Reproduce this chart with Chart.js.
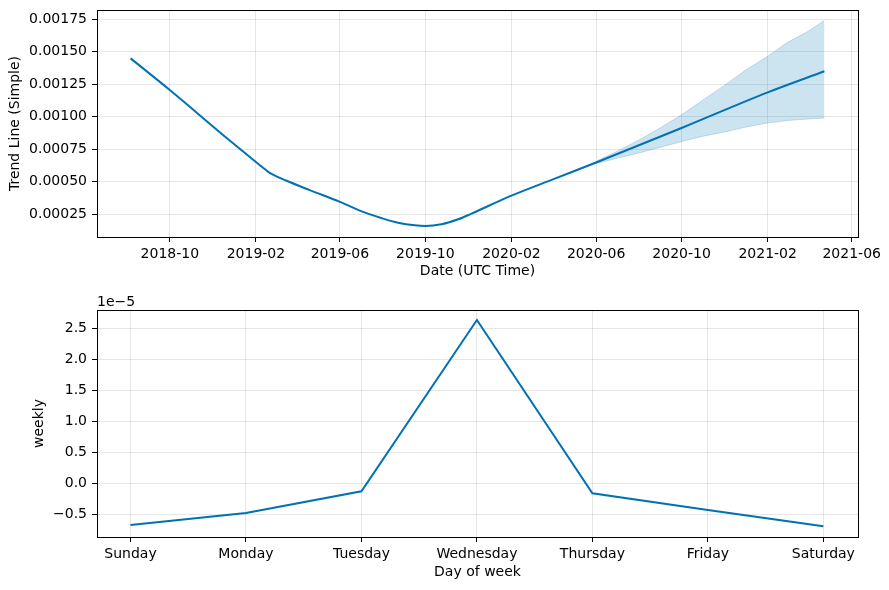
<!DOCTYPE html>
<html>
<head>
<meta charset="utf-8">
<script src="https://cdn.jsdelivr.net/npm/chart.js@4.4.0/dist/chart.umd.min.js"></script>
<style>
body { margin: 0; background: #fff; }
#wrap { position: relative; width: 889px; height: 590px; }
canvas { position: absolute; left: 0; }
</style>
</head>
<body>
<div id="wrap">
  <canvas id="trendChart" width="889" height="295" style="top:0"></canvas>
  <canvas id="weeklyChart" width="889" height="295" style="top:295px"></canvas>
</div>
<script>
// -----------------------------
// Data
// -----------------------------
const trendDates = [
  '2018-08-06', '2018-10-01', '2018-12-26', '2019-02-10', '2019-02-18', '2019-02-26',
  '2019-03-16', '2019-04-18', '2019-06-01', '2019-07-07', '2019-07-31', '2019-08-23',
  '2019-09-16', '2019-10-01', '2019-10-24', '2019-11-17', '2019-12-06', '2020-02-01',
  '2020-04-02', '2020-06-01', '2020-10-01', '2021-02-01', '2021-04-23'
];
const trendValues = [
  0.001448, 0.001205, 0.000815, 0.000613, 0.000578, 0.000553,
  0.000509, 0.000437, 0.000345, 0.000262, 0.000219, 0.000185,
  0.000165, 0.000160, 0.000173, 0.000211, 0.000255, 0.000393,
  0.000522, 0.000648, 0.000913, 0.001187, 0.001349
];

const bandDates = [
  '2020-05-20', '2020-06-01', '2020-07-01', '2020-08-01', '2020-09-01', '2020-10-01',
  '2020-11-01', '2020-12-01', '2021-01-01', '2021-02-01', '2021-03-01', '2021-04-01', '2021-04-23'
];
const bandUpper = [
  0.000625, 0.000658, 0.000735, 0.000820, 0.000915, 0.001015,
  0.001130, 0.001240, 0.001360, 0.001464, 0.001570, 0.001660, 0.001741
];
const bandLower = [
  0.000620, 0.000640, 0.000680, 0.000720, 0.000765, 0.000809,
  0.000850, 0.000882, 0.000920, 0.000951, 0.000970, 0.000982, 0.000989
];

const trendTickLabels = ['2018-10', '2019-02', '2019-06', '2019-10', '2020-02', '2020-06', '2020-10', '2021-02', '2021-06'];
const trendYTicks = [0.00025, 0.0005, 0.00075, 0.001, 0.00125, 0.0015, 0.00175];

const weekDays = ['Sunday', 'Monday', 'Tuesday', 'Wednesday', 'Thursday', 'Friday', 'Saturday'];
const weeklyValues = [-0.673e-5, -0.479e-5, -0.129e-5, 2.634e-5, -0.161e-5, -0.43e-5, -0.694e-5];
const weeklyYTicks = [-0.5e-5, 0, 0.5e-5, 1.0e-5, 1.5e-5, 2.0e-5, 2.5e-5];

// -----------------------------
// Shared look
// -----------------------------
const lineColor = '#0072B2';
const bandColor = 'rgba(0, 114, 178, 0.2)';
const gridColor = 'rgba(128, 128, 128, 0.2)';

Chart.defaults.font.family = 'DejaVu Sans';
Chart.defaults.font.size = 14;
Chart.defaults.color = '#000';

function toMs(d) {
  let p = d.split('-');
  return Date.UTC(+p[0], +p[1] - 1, p[2] ? +p[2] : 1);
}

function pts(xs, ys) {
  let out = [];
  for (let i = 0; i < xs.length; i++) {
    out.push({ x: xs[i], y: ys[i] });
  }
  return out;
}

// black box round the plot area, like the matplotlib spines
const framePlugin = {
  id: 'frame',
  afterDraw(chart) {
    let a = chart.chartArea;
    let ctx = chart.ctx;
    ctx.save();
    ctx.strokeStyle = '#000';
    ctx.lineWidth = 1;
    ctx.strokeRect(Math.round(a.left) + 0.5, Math.round(a.top) + 0.5,
      Math.round(a.right - a.left), Math.round(a.bottom - a.top));
    ctx.restore();
  }
};

// "1e-5" offset text above the weekly axis
const offsetTextPlugin = {
  id: 'offsetText',
  afterDraw(chart) {
    let a = chart.chartArea;
    let ctx = chart.ctx;
    ctx.save();
    ctx.font = '14px "DejaVu Sans"';
    ctx.fillStyle = '#000';
    ctx.textAlign = 'left';
    ctx.textBaseline = 'middle';
    ctx.fillText('1e\u22125', a.left, a.top - 8);
    ctx.restore();
  }
};

function axisGrid() {
  return { color: gridColor, lineWidth: 1, tickColor: '#000', tickLength: 5, drawTicks: true };
}

// keep the plot box where the reference has it (no label overhang padding)
function fixX(h) {
  return s => { s.height = h; s.paddingLeft = 0; s.paddingRight = 0; };
}
function fixY(s) {
  s.width = 97;
  s.paddingTop = 0;
  s.paddingBottom = 0;
}

// -----------------------------
// Trend chart
// -----------------------------
const trendPts = pts(trendDates.map(toMs), trendValues);
const upperPts = pts(bandDates.map(toMs), bandUpper);
const lowerPts = pts(bandDates.map(toMs), bandLower);

new Chart(document.getElementById('trendChart'), {
  type: 'line',
  data: {
    datasets: [
      {
        label: 'trend',
        data: trendPts,
        borderColor: lineColor,
        borderWidth: 2,
        pointRadius: 0,
        cubicInterpolationMode: 'monotone',
        fill: false,
        order: 0
      },
      {
        label: 'upper',
        data: upperPts,
        borderColor: bandColor,
        borderWidth: 1,
        backgroundColor: bandColor,
        pointRadius: 0,
        fill: '+1',
        order: 1
      },
      {
        label: 'lower',
        data: lowerPts,
        borderColor: bandColor,
        borderWidth: 1,
        pointRadius: 0,
        fill: false,
        order: 2
      }
    ]
  },
  options: {
    responsive: false,
    animation: false,
    layout: { padding: { top: 10, right: 31, left: 0, bottom: 0 } },
    plugins: { legend: { display: false }, tooltip: { enabled: false } },
    scales: {
      x: {
        type: 'linear',
        min: toMs('2018-06-19'),
        max: toMs('2021-06-10'),
        afterBuildTicks: s => { s.ticks = trendTickLabels.map(l => ({ value: toMs(l) })); },
        afterFit: fixX(58),
        ticks: { callback: (v, i) => trendTickLabels[i], autoSkip: false, maxRotation: 0, padding: 4 },
        grid: axisGrid(),
        border: { display: false },
        title: { display: true, text: 'Date (UTC Time)', padding: { top: 0, bottom: 15 } }
      },
      y: {
        min: 0.000075,
        max: 0.00182,
        afterBuildTicks: s => { s.ticks = trendYTicks.map(v => ({ value: v })); },
        afterFit: fixY,
        ticks: { callback: v => v.toFixed(5), padding: 5 },
        grid: axisGrid(),
        border: { display: false },
        title: { display: true, text: 'Trend Line (Simple)', padding: { top: 7, bottom: 0 } }
      }
    }
  },
  plugins: [framePlugin]
});

// -----------------------------
// Weekly chart
// -----------------------------
new Chart(document.getElementById('weeklyChart'), {
  type: 'line',
  data: {
    datasets: [{
      label: 'weekly',
      data: pts(weekDays.map((d, i) => i), weeklyValues),
      borderColor: lineColor,
      borderWidth: 2,
      pointRadius: 0,
      fill: false
    }]
  },
  options: {
    responsive: false,
    animation: false,
    layout: { padding: { top: 15, right: 31, left: 0, bottom: 0 } },
    plugins: { legend: { display: false }, tooltip: { enabled: false } },
    scales: {
      x: {
        type: 'linear',
        min: -0.29,
        max: 6.3,
        afterBuildTicks: s => { s.ticks = weekDays.map((d, i) => ({ value: i })); },
        afterFit: fixX(53),
        ticks: { callback: (v, i) => weekDays[i], autoSkip: false, maxRotation: 0, padding: 4 },
        grid: axisGrid(),
        border: { display: false },
        title: { display: true, text: 'Day of week', padding: { top: 0, bottom: 9 } }
      },
      y: {
        min: -0.866e-5,
        max: 2.795e-5,
        afterBuildTicks: s => { s.ticks = weeklyYTicks.map(v => ({ value: v })); },
        afterFit: fixY,
        ticks: { callback: v => (v / 1e-5).toFixed(1).replace('-', '\u2212'), padding: 5 },
        grid: axisGrid(),
        border: { display: false },
        title: { display: true, text: 'weekly', padding: { top: 31, bottom: 0 } }
      }
    }
  },
  plugins: [framePlugin, offsetTextPlugin]
});
</script>
</body>
</html>
